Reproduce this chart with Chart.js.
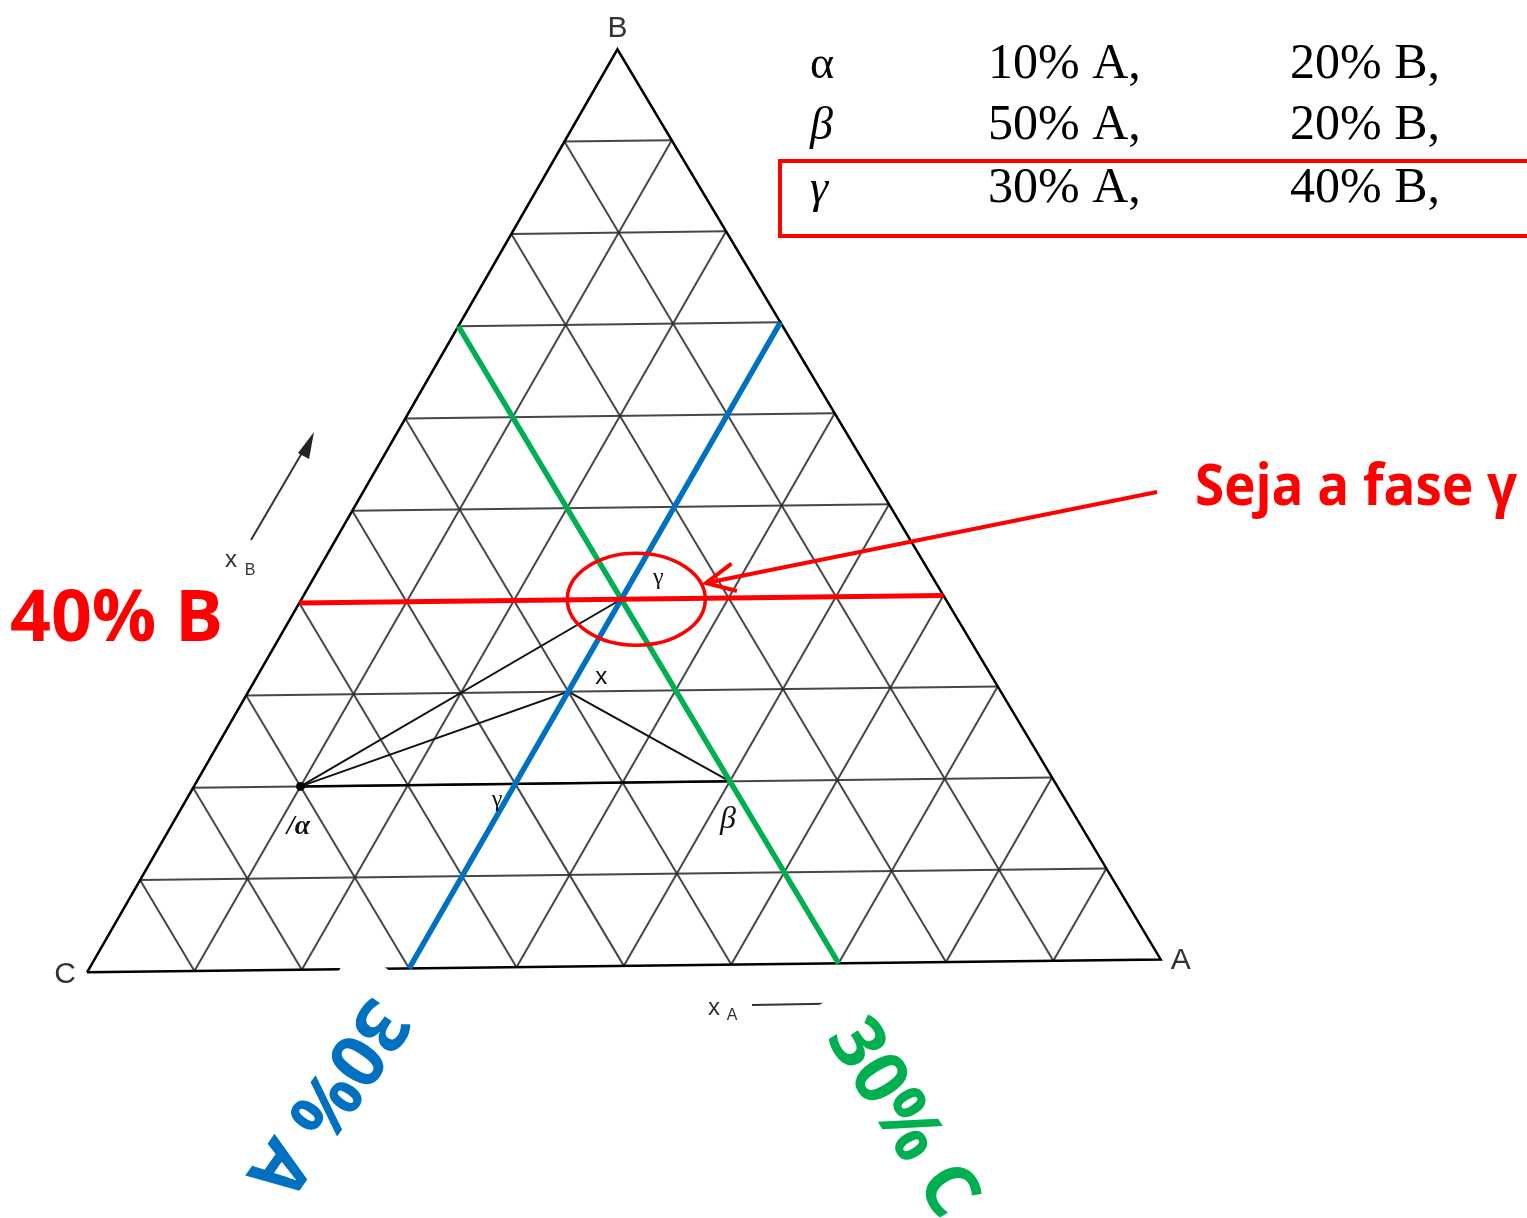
<!DOCTYPE html>
<html lang="pt-BR">
<head>
<meta charset="utf-8">
<title>Diagrama ternário – fase γ</title>
<script src="https://cdn.jsdelivr.net/npm/chart.js@4.4.1/dist/chart.umd.min.js"></script>
<style>
  html, body { margin: 0; padding: 0; background: #fff; }
  #grafico { display: block; }
</style>
</head>
<body>
<canvas id="grafico" width="1527" height="1218"></canvas>
<script>
// ====== DADOS ======
// composição das fases (% A, % B; o resto é C)
const fases = ['α', 'β', 'γ'];
const pctA = [10, 50, 30];
const pctB = [20, 20, 40];
// composição global x (% A, % B)
const pontoX = [30, 30];
// linhas da grade, a cada 10 %
const linhasGrade = [10, 20, 30, 40, 50, 60, 70, 80, 90];
// fase em destaque
const iDestaque = 2;

// vértices do triângulo no plano do papel (C na origem)
const vertA = [1, 0.012];
const vertB = [0.494, 0.861];
const vertC = [0, 0];

// ====== FUNÇÕES ======
function ponto(a, b) {
  const c = 100 - a - b;
  return {
    x: (a * vertA[0] + b * vertB[0] + c * vertC[0]) / 100,
    y: (a * vertA[1] + b * vertB[1] + c * vertC[1]) / 100
  };
}

function linha(pontos, cor, largura, ordem) {
  return {
    data: pontos,
    showLine: true,
    borderColor: cor,
    borderWidth: largura,
    pointRadius: 0,
    fill: false,
    order: ordem
  };
}

const datasets = [];
const corGrade = 'rgba(45,45,45,0.88)';

// grade: B constante, A constante, C constante
linhasGrade.forEach(p => {
  datasets.push(linha([ponto(0, p), ponto(100 - p, p)], corGrade, 2, 6));
  datasets.push(linha([ponto(p, 0), ponto(p, 100 - p)], corGrade, 2, 6));
  datasets.push(linha([ponto(100 - p, 0), ponto(0, 100 - p)], corGrade, 2, 6));
});

// contorno do triângulo C-A-B
datasets.push(linha([ponto(0, 0), ponto(100, 0), ponto(0, 100), ponto(0, 0)], '#000', 2.5, 5));

// triângulo de amarração α-β-γ e linhas de x
const pA = ponto(pctA[0], pctB[0]);
const pB = ponto(pctA[1], pctB[1]);
const pG = ponto(pctA[2], pctB[2]);
const pX = ponto(pontoX[0], pontoX[1]);
datasets.push(linha([pA, pB], '#000', 2.5, 4));
datasets.push(linha([pA, pG, pB], '#111', 2, 4));
datasets.push(linha([pA, pX, pB], '#111', 2, 4));

// ponto α
datasets.push({ data: [pA], pointRadius: 4.5, pointBackgroundColor: '#000', pointBorderWidth: 0, order: 3 });

// linhas da fase em destaque (C, A e B constantes)
const a0 = pctA[iDestaque];
const b0 = pctB[iDestaque];
const c0 = 100 - a0 - b0;
datasets.push(linha([ponto(100 - c0, 0), ponto(0, 100 - c0)], '#00b050', 5.5, 2));
datasets.push(linha([ponto(a0, 0), ponto(a0, 100 - a0)], '#0070c0', 5.5, 1));
datasets.push(linha([ponto(0, b0), ponto(100 - b0, b0)], '#ff0000', 5, 0));

// ====== TEXTOS E MARCAÇÕES ======
function textoGirado(ctx, texto, cx, cy, ang, cor, meiaLarg, meiaAlt) {
  ctx.save();
  ctx.translate(cx, cy);
  ctx.rotate(ang * Math.PI / 180);
  ctx.fillStyle = '#fff';
  ctx.fillRect(-meiaLarg, -meiaAlt, 2 * meiaLarg, 2 * meiaAlt);
  ctx.fillStyle = cor;
  ctx.font = 'bold 74px "Open Sans"';
  ctx.textAlign = 'center';
  ctx.textBaseline = 'middle';
  ctx.fillText(texto, 0, 0, 228);
  ctx.restore();
}

const anotacoes = {
  id: 'anotacoes',
  afterDatasetsDraw(chart) {
    const { ctx, scales: { x: sx, y: sy } } = chart;
    const px = p => [sx.getPixelForValue(p.x), sy.getPixelForValue(p.y)];
    ctx.save();

    // rótulos dos vértices
    ctx.fillStyle = '#333';
    ctx.font = '30px "Liberation Sans"';
    ctx.textAlign = 'center';
    ctx.textBaseline = 'middle';
    const [bx, by] = px(ponto(0, 100));
    const [cx, cy] = px(ponto(0, 0));
    const [ax, ay] = px(ponto(100, 0));
    ctx.fillText('B', bx, by - 21);
    ctx.fillText('C', cx - 22, cy + 2);
    ctx.fillText('A', ax + 20, ay + 1);

    // x_B com seta
    ctx.font = '24px "Liberation Sans"';
    ctx.fillText('x', 231, 560);
    ctx.font = '16px "Liberation Sans"';
    ctx.fillText('B', 250, 571);
    ctx.strokeStyle = '#333';
    ctx.lineWidth = 2;
    ctx.beginPath();
    ctx.moveTo(251, 540);
    ctx.lineTo(306, 446);
    ctx.stroke();
    ctx.fillStyle = '#222';
    ctx.beginPath();
    ctx.moveTo(314, 432);
    ctx.lineTo(298, 453);
    ctx.lineTo(309, 459);
    ctx.closePath();
    ctx.fill();

    // x_A com seta
    ctx.fillStyle = '#333';
    ctx.font = '24px "Liberation Sans"';
    ctx.fillText('x', 714, 1008);
    ctx.font = '16px "Liberation Sans"';
    ctx.fillText('A', 732, 1016);
    ctx.beginPath();
    ctx.moveTo(752, 1005);
    ctx.lineTo(870, 1003);
    ctx.stroke();

    // rótulos das fases no diagrama
    ctx.fillStyle = '#111';
    const [alx, aly] = px(pA);
    const [bex, bey] = px(pB);
    const [gax, gay] = px(pG);
    const [xx, xy] = px(pX);
    ctx.font = 'italic bold 28px "Liberation Serif"';
    ctx.fillText('/' + fases[0], alx - 2, aly + 40);
    ctx.font = 'italic 32px "Liberation Serif"';
    ctx.fillText(fases[1], bex - 2, bey + 38);
    ctx.font = '24px "Liberation Serif"';
    ctx.fillText(fases[2], gax + 37, gay - 22);
    ctx.fillText(fases[2], 497, 800);
    ctx.font = '24px "Liberation Sans"';
    ctx.fillText('x', xx + 33, xy - 14);

    // tabela de composições
    ctx.textAlign = 'left';
    ctx.textBaseline = 'alphabetic';
    ctx.fillStyle = '#000';
    const linhasTab = [78, 139, 202];
    fases.forEach((f, i) => {
      ctx.font = (i === 0 ? '' : 'italic ') + '46px "Liberation Serif"';
      ctx.fillText(f, 810, linhasTab[i]);
      ctx.font = '50px "Liberation Serif"';
      ctx.fillText(pctA[i] + '% A,', 988, linhasTab[i], 158);
      ctx.fillText(pctB[i] + '% B,', 1290, linhasTab[i], 156);
    });

    // destaque da linha γ na tabela
    ctx.strokeStyle = '#ff0000';
    ctx.lineWidth = 4;
    ctx.strokeRect(780, 161, 760, 75);

    // elipse em volta de γ
    ctx.lineWidth = 3.5;
    ctx.beginPath();
    ctx.ellipse(gax + 15, gay, 69, 46, 0, 0, Math.PI * 2);
    ctx.stroke();

    // seta vermelha
    ctx.lineWidth = 4;
    ctx.beginPath();
    ctx.moveTo(1157, 492);
    ctx.lineTo(706, 583);
    ctx.stroke();
    const angSeta = Math.atan2(492 - 583, 1157 - 706);
    ctx.beginPath();
    ctx.moveTo(706 + 32 * Math.cos(angSeta - 0.45), 583 + 32 * Math.sin(angSeta - 0.45));
    ctx.lineTo(706, 583);
    ctx.lineTo(706 + 32 * Math.cos(angSeta + 0.45), 583 + 32 * Math.sin(angSeta + 0.45));
    ctx.stroke();

    // textos vermelhos
    ctx.fillStyle = '#ff0000';
    ctx.font = 'bold 58px "Open Sans"';
    ctx.fillText('Seja a fase ' + fases[iDestaque], 1195, 505, 322);
    ctx.font = 'bold 72px "Open Sans"';
    ctx.fillText(b0 + '% B', 10, 641, 213);

    // rótulos girados das linhas A e C
    textoGirado(ctx, a0 + '% A', 326, 1097, 125, '#0070c0', 140, 62);
    textoGirado(ctx, c0 + '% C', 901, 1119, 58, '#00b050', 140, 62);

    ctx.restore();
  }
};

// ====== GRÁFICO ======
const chart = new Chart(document.getElementById('grafico').getContext('2d'), {
  type: 'scatter',
  data: { datasets },
  options: {
    responsive: false,
    animation: false,
    devicePixelRatio: 1,
    layout: { padding: 0 },
    plugins: { legend: { display: false }, tooltip: { enabled: false } },
    scales: {
      x: { type: 'linear', min: -0.0769, max: 1.337, display: false },
      y: { type: 'linear', min: -0.225, max: 0.9028, display: false }
    }
  },
  plugins: [anotacoes]
});
</script>
</body>
</html>
